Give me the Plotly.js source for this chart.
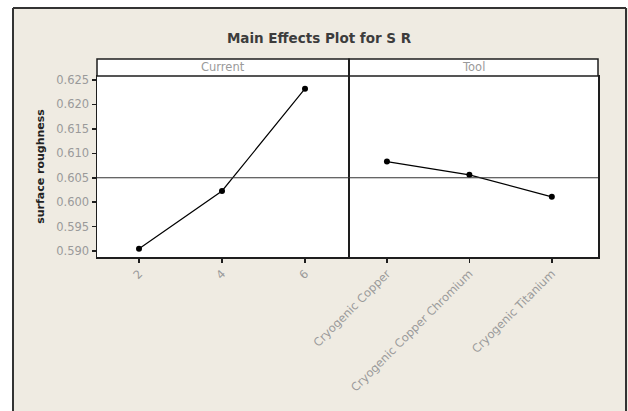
<!DOCTYPE html>
<html>
<head>
<meta charset="utf-8">
<script src="https://cdn.plot.ly/plotly-3.0.1.min.js"></script>
<style>html,body{margin:0;padding:0;background:#fff;}#chart{width:628px;height:411px;}</style>
</head>
<body>
<div id="chart"></div>
<script>
// ---- data ----
const currentLevels = ['2', '4', '6'];
const currentMeans = [0.5905, 0.6023, 0.6232];
const toolLevels = ['Cryogenic Copper', 'Cryogenic Copper Chromium', 'Cryogenic Titanium'];
const toolMeans = [0.6083, 0.6056, 0.6011];
const grandMean = 0.605;
const yTickVals = [0.590, 0.595, 0.600, 0.605, 0.610, 0.615, 0.620, 0.625];
const yTickText = ['0.590', '0.595', '0.600', '0.605', '0.610', '0.615', '0.620', '0.625'];
const panelNames = ['Current', 'Tool'];
const chartTitle = 'Main Effects Plot for S R';
const yTitle = 'surface roughness';

// ---- layout helpers (pixel geometry) ----
const W = 628, H = 411;
const L = 97, R = 598, T = 76, B = 257;
const px = x => (x - L) / (R - L);
const py = y => (B - y) / (B - T);
const split = px(349);

const tickFont = {family: 'DejaVu Sans', size: 11.5, color: '#9a9a9a'};
const lineCol = '#1e1e1e';

const traces = [
  {x: currentLevels, y: currentMeans, xaxis: 'x', yaxis: 'y', type: 'scatter', mode: 'lines+markers',
   line: {color: '#000', width: 1.2}, marker: {color: '#000', size: 6, symbol: 'circle'}, hoverinfo: 'x+y', showlegend: false},
  {x: toolLevels, y: toolMeans, xaxis: 'x2', yaxis: 'y2', type: 'scatter', mode: 'lines+markers',
   line: {color: '#000', width: 1.2}, marker: {color: '#000', size: 6, symbol: 'circle'}, hoverinfo: 'x+y', showlegend: false}
];

const axisCommon = {showgrid: false, zeroline: false, showline: true, linecolor: lineCol, linewidth: 1.5, mirror: true,
  ticks: 'outside', ticklen: 4, tickwidth: 1.5, tickcolor: lineCol, tickfont: tickFont, fixedrange: true};

const layout = {
  width: W, height: H,
  margin: {l: L, r: W - R, t: T, b: H - B, pad: 0},
  paper_bgcolor: '#efebe2',
  plot_bgcolor: '#ffffff',
  font: {family: 'DejaVu Sans', color: '#444'},
  title: {text: '<b>' + chartTitle + '</b>', font: {family: 'DejaVu Sans', size: 13.5, color: '#3c3c3c'},
          x: 0.508, xanchor: 'center', y: 1 - 38 / H, yanchor: 'middle'},
  xaxis: Object.assign({}, axisCommon, {domain: [0, split], type: 'category', range: [-0.506, 2.53],
          tickangle: -45, anchor: 'y'}),
  xaxis2: Object.assign({}, axisCommon, {domain: [split, 1], type: 'category', range: [-0.46, 2.56],
          tickangle: -45, anchor: 'y2'}),
  yaxis: Object.assign({}, axisCommon, {range: [0.5888, 0.6258], tickvals: yTickVals, ticktext: yTickText,
          mirror: false, anchor: 'x',
          title: {text: '<b>' + yTitle + '</b>', font: {family: 'DejaVu Sans', size: 11, color: '#222'}, standoff: 9}}),
  yaxis2: Object.assign({}, axisCommon, {range: [0.5888, 0.6258], matches: 'y', anchor: 'x2', ticks: '', showticklabels: false}),
  shapes: [
    // white outside the outer frame
    {type: 'rect', xref: 'paper', yref: 'paper', x0: px(-5), x1: px(13), y0: py(420), y1: py(-5), fillcolor: '#fff', line: {width: 0}, layer: 'below'},
    {type: 'rect', xref: 'paper', yref: 'paper', x0: px(-5), x1: px(635), y0: py(8), y1: py(-5), fillcolor: '#fff', line: {width: 0}, layer: 'below'},
    // outer frame
    {type: 'line', xref: 'paper', yref: 'paper', x0: px(13), x1: px(13), y0: py(8), y1: py(420), line: {color: '#333', width: 2}},
    {type: 'line', xref: 'paper', yref: 'paper', x0: px(13), x1: px(626), y0: py(8), y1: py(8), line: {color: '#333', width: 2}},
    {type: 'line', xref: 'paper', yref: 'paper', x0: px(626), x1: px(626), y0: py(8), y1: py(420), line: {color: '#333', width: 2}},
    // strip headers
    {type: 'rect', xref: 'paper', yref: 'paper', x0: 0, x1: split, y0: 1, y1: py(59), fillcolor: '#fff', line: {color: lineCol, width: 1.5}},
    {type: 'rect', xref: 'paper', yref: 'paper', x0: split, x1: 1, y0: 1, y1: py(59), fillcolor: '#fff', line: {color: lineCol, width: 1.5}},
    // panel divider
    {type: 'line', xref: 'paper', yref: 'paper', x0: split, x1: split, y0: 0, y1: py(59), line: {color: lineCol, width: 2}},
    // grand mean reference line
    {type: 'line', xref: 'paper', yref: 'y', x0: 0, x1: 1, y0: grandMean, y1: grandMean, line: {color: '#333', width: 1}}
  ],
  annotations: [
    {text: panelNames[0], xref: 'paper', yref: 'paper', x: split / 2, y: py(67.5), showarrow: false,
     xanchor: 'center', yanchor: 'middle', font: {family: 'DejaVu Sans', size: 11.5, color: '#9a9a9a'}},
    {text: panelNames[1], xref: 'paper', yref: 'paper', x: (split + 1) / 2, y: py(67.5), showarrow: false,
     xanchor: 'center', yanchor: 'middle', font: {family: 'DejaVu Sans', size: 11.5, color: '#9a9a9a'}}
  ]
};

Plotly.newPlot('chart', traces, layout, {displayModeBar: false, staticPlot: true});
</script>
</body>
</html>
